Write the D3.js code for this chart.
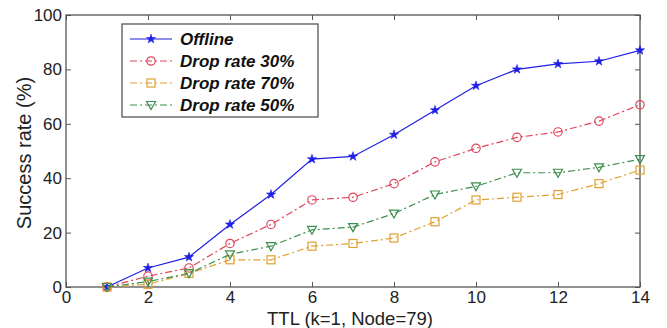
<!DOCTYPE html>
<html>
<head>
<meta charset="utf-8">
<script src="https://d3js.org/d3.v7.min.js"></script>
<style>
  body { margin: 0; background: #fff; }
  text { font-family: "Liberation Sans", Arial, sans-serif; }
</style>
</head>
<body>
<svg id="chart" width="667" height="328"></svg>
<script>
// data
const ttl = [1, 2, 3, 4, 5, 6, 7, 8, 9, 10, 11, 12, 13, 14];
const offline = [0, 7, 11, 23, 34, 47, 48, 56, 65, 74, 80, 82, 83, 87];
const drop30 = [0, 4, 7, 16, 23, 32, 33, 38, 46, 51, 55, 57, 61, 67];
const drop70 = [0, 1, 5, 10, 10, 15, 16, 18, 24, 32, 33, 34, 38, 43];
const drop50 = [0, 2, 5, 12, 15, 21, 22, 27, 34, 37, 42, 42, 44, 47];
const xTicks = [0, 2, 4, 6, 8, 10, 12, 14];
const yTicks = [0, 20, 40, 60, 80, 100];

const series = [
    {name: "Offline", values: offline, color: "#1f1fe6", dash: null, marker: "star"},
    {name: "Drop rate 30%", values: drop30, color: "#e0455a", dash: "7,3,2,3", marker: "circle"},
    {name: "Drop rate 70%", values: drop70, color: "#e0a030", dash: "7,3,2,3", marker: "square"},
    {name: "Drop rate 50%", values: drop50, color: "#3f8f4f", dash: "7,3,2,3", marker: "triangle"}
];

const svg = d3.select("#chart");
const plotL = 66, plotR = 640, plotT = 15, plotB = 287;

const x = d3.scaleLinear().domain([0, 14]).range([plotL, plotR]);
const y = d3.scaleLinear().domain([0, 100]).range([plotB, plotT]);

const axisColor = "#555";

// ticks (inward, all four sides)
function styleAxis(g) {
    g.select(".domain").remove();
    g.selectAll("line").attr("stroke", axisColor);
    g.selectAll("text").attr("fill", "#222").style("font-size", "17px");
}
svg.append("g").attr("transform", `translate(0,${plotB})`)
    .call(d3.axisBottom(x).tickValues(xTicks).tickSizeInner(-5).tickSizeOuter(0).tickPadding(4))
    .call(styleAxis);
svg.append("g").attr("transform", `translate(0,${plotT})`)
    .call(d3.axisTop(x).tickValues(xTicks).tickSizeInner(-5).tickSizeOuter(0).tickFormat(""))
    .call(styleAxis);
svg.append("g").attr("transform", `translate(${plotL},0)`)
    .call(d3.axisLeft(y).tickValues(yTicks).tickSizeInner(-5).tickSizeOuter(0).tickPadding(4))
    .call(styleAxis);
svg.append("g").attr("transform", `translate(${plotR},0)`)
    .call(d3.axisRight(y).tickValues(yTicks).tickSizeInner(-5).tickSizeOuter(0).tickFormat(""))
    .call(styleAxis);

svg.append("rect")
    .attr("x", plotL).attr("y", plotT)
    .attr("width", plotR - plotL).attr("height", plotB - plotT)
    .attr("fill", "none").attr("stroke", axisColor).attr("stroke-width", 1.3);

const line = d3.line().x((d, i) => x(ttl[i])).y(d => y(d));

function drawMarker(g, type, color, cx, cy) {
    if (type === "star") {
        g.append("path").attr("transform", `translate(${cx},${cy})`)
            .attr("d", d3.symbol(d3.symbolStar, 26)())
            .attr("fill", color).attr("stroke", color).attr("stroke-width", 0.6);
    } else if (type === "circle") {
        g.append("circle").attr("cx", cx).attr("cy", cy).attr("r", 4.2)
            .attr("fill", "none").attr("stroke", color).attr("stroke-width", 1.2);
    } else if (type === "square") {
        g.append("rect").attr("x", cx - 4).attr("y", cy - 4).attr("width", 8).attr("height", 8)
            .attr("fill", "none").attr("stroke", color).attr("stroke-width", 1.2);
    } else {
        g.append("path").attr("transform", `translate(${cx},${cy})`)
            .attr("d", "M-4.5,-3.5L4.5,-3.5L0,4.5Z")
            .attr("fill", "none").attr("stroke", color).attr("stroke-width", 1.2);
    }
}

series.forEach(s => {
    const g = svg.append("g");
    g.append("path").datum(s.values)
        .attr("d", line)
        .attr("fill", "none")
        .attr("stroke", s.color)
        .attr("stroke-width", 1.2)
        .attr("stroke-dasharray", s.dash);
    s.values.forEach((v, i) => drawMarker(g, s.marker, s.color, x(ttl[i]), y(v)));
});

// legend
const lg = svg.append("g").attr("transform", "translate(122,24)");
lg.append("rect").attr("width", 196).attr("height", 93)
    .attr("fill", "#fff").attr("stroke", axisColor).attr("stroke-width", 1.3);
series.forEach((s, i) => {
    const yy = 15 + i * 22;
    lg.append("line").attr("x1", 8).attr("x2", 50).attr("y1", yy).attr("y2", yy)
        .attr("stroke", s.color).attr("stroke-width", 1.2).attr("stroke-dasharray", s.dash);
    drawMarker(lg, s.marker, s.color, 29, yy);
    lg.append("text").attr("x", 58).attr("y", yy + 6)
        .style("font-size", "17px").style("font-weight", "bold").style("font-style", "italic")
        .attr("fill", "#111").text(s.name);
});

// axis titles
svg.append("text").attr("x", 350).attr("y", 325).attr("text-anchor", "middle")
    .style("font-size", "18.5px").attr("fill", "#222").text("TTL (k=1, Node=79)");
svg.append("text").attr("transform", "translate(31,153) rotate(-90)").attr("text-anchor", "middle")
    .style("font-size", "20px").attr("fill", "#222").text("Success rate (%)");
</script>
</body>
</html>
